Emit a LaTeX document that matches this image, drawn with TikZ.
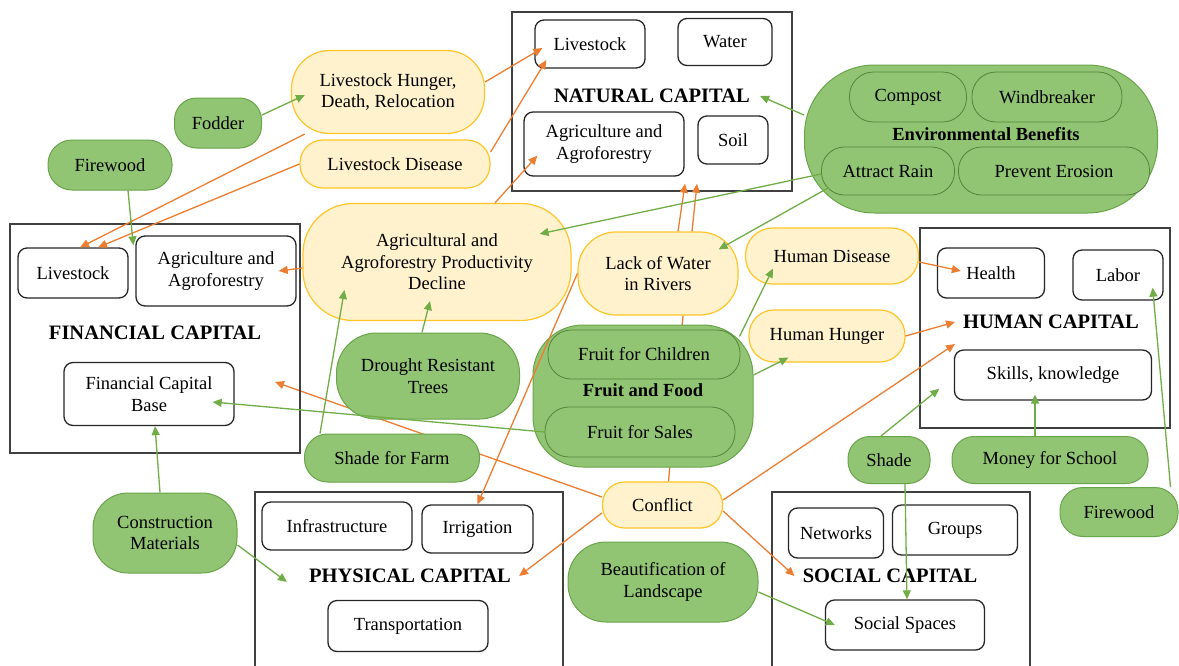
\documentclass[tikz,border=0pt]{standalone}
\usepackage{fontspec}
\setmainfont{Liberation Serif}
\usepackage{tikz}
\usetikzlibrary{arrows.meta}
\usetikzlibrary{backgrounds}

\definecolor{impactfill}{RGB}{255,242,204}
\definecolor{impactline}{RGB}{255,196,40}
\definecolor{benefitfill}{RGB}{145,197,116}
\definecolor{benefitline}{RGB}{104,165,72}
\definecolor{causecol}{RGB}{237,125,49}
\definecolor{gaincol}{RGB}{112,173,71}

\tikzset{
  capital/.style={draw=black!75, line width=1.5pt, inner sep=0pt},
  asset/.style={draw=black!85, line width=1.3pt, rounded corners=9pt, fill=white, inner sep=2pt},
  heading/.style={font=\fontsize{20.5}{24}\selectfont\bfseries, inner sep=4pt},
  impact/.style={draw=impactline, line width=1.2pt, fill=impactfill, inner sep=2pt},
  benefit/.style={draw=benefitline, line width=1pt, fill=benefitfill, inner sep=2pt},
  subbenefit/.style={draw=benefitline!80!black, line width=0.8pt, fill=benefitfill, inner sep=2pt},
  cause/.style={draw=causecol, line width=1.3pt, -{Triangle[length=9pt,width=8pt]}},
  gain/.style={draw=gaincol, line width=1.3pt, -{Triangle[length=9pt,width=8pt]}},
}

\begin{document}
\begin{tikzpicture}[x=1pt, y=-1pt, every node/.append style={font=\fontsize{18.5}{21.5}\selectfont, align=center}]
        \useasboundingbox (0,0) rectangle (1179,665);
        \clip (0,0) rectangle (1179,665); % bottom boxes run off the page

        % natural capital
        \node[capital, minimum width=280pt, minimum height=179pt] (nat) at (652,101.5) {};
        \node[asset, minimum width=110pt, minimum height=48pt] (natLs) at (590,44) {Livestock};
        \node[asset, minimum width=94pt, minimum height=47pt] (natWater) at (725,42) {Water};
        \node[heading] (natT) at (652,96) {NATURAL CAPITAL};
        \node[asset, minimum width=160pt, minimum height=64pt] (natAgri) at (604,144) {Agriculture and\\Agroforestry};
        \node[asset, minimum width=70pt, minimum height=48pt] (natSoil) at (733,140) {Soil};

        % environmental benefits
        \node[benefit, rounded corners=70pt, minimum width=353pt, minimum height=148pt] (env) at (981,139) {};
        \node[subbenefit, rounded corners=24pt, minimum width=117pt, minimum height=50pt] (compost) at (908,97) {Compost};
        \node[subbenefit, rounded corners=24pt, minimum width=150pt, minimum height=50pt] (wind) at (1047,97) {Windbreaker};
        \node[font=\fontsize{18.5}{21.5}\selectfont\bfseries] (envT) at (986,134) {Environmental Benefits};
        \node[subbenefit, rounded corners=23pt, minimum width=133pt, minimum height=48pt] (rain) at (888,171) {Attract Rain};
        \node[subbenefit, rounded corners=23pt, minimum width=191pt, minimum height=48pt] (erosion) at (1054,171) {Prevent Erosion};

        % livestock impacts and left benefits
        \node[impact, rounded corners=38pt, minimum width=193pt, minimum height=83pt] (lhd) at (388,92) {Livestock Hunger,\\Death, Relocation};
        \node[impact, rounded corners=23pt, minimum width=190pt, minimum height=48pt] (ldis) at (395,164) {Livestock Disease};
        \node[benefit, rounded corners=22pt, minimum width=87pt, minimum height=50pt] (fodder) at (218,123) {Fodder};
        \node[benefit, rounded corners=24pt, minimum width=124pt, minimum height=50pt] (fwoodL) at (110,165) {Firewood};

        % financial capital
        \node[capital, minimum width=290pt, minimum height=229pt] (fin) at (155,338.5) {};
        \node[asset, minimum width=110pt, minimum height=50pt] (finLs) at (73,273) {Livestock};
        \node[asset, minimum width=160pt, minimum height=70pt] (finAgri) at (216,271) {Agriculture and\\Agroforestry};
        \node[heading] (finT) at (155,333) {FINANCIAL CAPITAL};
        \node[asset, minimum width=170pt, minimum height=63pt] (finBase) at (149,394) {Financial Capital\\Base};
        \coordinate (finIn) at (275,382);

        % middle impacts
        \node[impact, rounded corners=50pt, minimum width=268pt, minimum height=117pt] (decl) at (437,262) {Agricultural and\\Agroforestry Productivity\\Decline};
        \node[impact, rounded corners=38pt, minimum width=160pt, minimum height=83pt] (lack) at (658,273.5) {Lack of Water\\in Rivers};
        \node[impact, rounded corners=27pt, minimum width=173pt, minimum height=56pt] (hdis) at (832,256) {Human Disease};
        \node[impact, rounded corners=25pt, minimum width=156pt, minimum height=52pt] (hhun) at (827,336) {Human Hunger};

        % human capital
        \node[capital, minimum width=250pt, minimum height=200pt] (hum) at (1045,328) {};
        \node[asset, minimum width=107pt, minimum height=50pt] (health) at (991,273) {Health};
        \node[asset, minimum width=90pt, minimum height=50pt] (labor) at (1118,275) {Labor};
        \node[heading] (humT) at (1051,322) {HUMAN CAPITAL};
        \node[asset, minimum width=197pt, minimum height=50pt] (skills) at (1053,375) {Skills, knowledge};

        % trees, fruit and food
        \node[benefit, rounded corners=40pt, minimum width=183pt, minimum height=86pt] (drought) at (428,376) {Drought Resistant\\Trees};
        \node[benefit, rounded corners=50pt, minimum width=220pt, minimum height=142pt] (fruit) at (643,396) {};
        \node[subbenefit, rounded corners=23pt, minimum width=192pt, minimum height=49pt] (fchild) at (644,354.5) {Fruit for Children};
        \node[font=\fontsize{18.5}{21.5}\selectfont\bfseries] (fruitT) at (643,390) {Fruit and Food};
        \node[subbenefit, rounded corners=24pt, minimum width=190pt, minimum height=50pt] (fsales) at (640,432) {Fruit for Sales};
        \node[benefit, rounded corners=23pt, minimum width=175pt, minimum height=48pt] (shadeFarm) at (392,458) {Shade for Farm};
        \node[impact, rounded corners=22pt, minimum width=120pt, minimum height=46pt] (conflict) at (662.5,505) {Conflict};
        \node[benefit, rounded corners=22pt, minimum width=82pt, minimum height=47pt] (shade) at (889,460) {Shade};
        \node[benefit, rounded corners=22pt, minimum width=196pt, minimum height=47pt] (money) at (1050,460) {Money for School};
        \node[benefit, rounded corners=23pt, minimum width=118pt, minimum height=49pt] (fwoodR) at (1119,512) {Firewood};
        \node[benefit, rounded corners=35pt, minimum width=144pt, minimum height=80pt] (constr) at (165,533) {Construction\\Materials};
        \node[benefit, rounded corners=38pt, minimum width=190pt, minimum height=80pt] (beauty) at (663,582) {Beautification of\\Landscape};

        % physical capital
        \node[capital, minimum width=308pt, minimum height=178pt] (phys) at (409,581) {};
        \node[asset, minimum width=150pt, minimum height=48pt] (infra) at (337,526) {Infrastructure};
        \node[asset, minimum width=111pt, minimum height=48pt] (irrig) at (477.5,529) {Irrigation};
        \node[heading] (physT) at (410,576) {PHYSICAL CAPITAL};
        \node[asset, minimum width=160pt, minimum height=51pt] (transp) at (408,626) {Transportation};

        % social capital
        \node[capital, minimum width=258pt, minimum height=178pt] (soc) at (901,581) {};
        \node[asset, minimum width=95pt, minimum height=50pt] (netw) at (836,533) {Networks};
        \node[asset, minimum width=125pt, minimum height=50pt] (groups) at (955,530) {Groups};
        \node[heading] (socT) at (890,576) {SOCIAL CAPITAL};
        \node[asset, minimum width=159pt, minimum height=50pt] (spaces) at (905,625) {Social Spaces};

        % lines that run behind the shapes
        \begin{scope}[on background layer]
            \draw[causecol, line width=1.3pt] ([xshift=25pt]lack.south) -- ([xshift=6pt]conflict.north);
            \draw[cause] ([yshift=8pt]conflict.west) -- (finIn);
        \end{scope}

        % impacts (orange)
        \draw[cause] (lhd) -- ([xshift=7pt]finLs.north);
        \draw[cause] (ldis.west) -- ([xshift=25pt]finLs.north);
        \draw[cause] ([yshift=10pt]lhd.east) -- ([xshift=8pt,yshift=-4pt]natLs.west);
        \draw[cause] ([yshift=12pt]ldis.east) -- ([xshift=12pt,yshift=-16pt]natLs.west);
        \draw[cause] ([xshift=58pt]decl.north) -- ([xshift=14pt,yshift=21pt]natAgri.south west);
        \draw[cause] ([yshift=-6pt]decl.west) -- ([xshift=-18pt]finAgri.east);
        \draw[cause] ([xshift=20pt]lack.north) -- ([xshift=33pt,yshift=8pt]nat.south);
        \draw[cause] ([xshift=34pt]lack.north) -- ([xshift=45pt,yshift=8pt]nat.south);
        \draw[cause] (lack.west) -- (irrig.north);
        \draw[cause] ([yshift=-6pt]hdis.east) -- ([xshift=24pt,yshift=2pt]health.west);
        \draw[cause] (hhun.east) -- ([xshift=-4pt]humT.west);
        \draw[cause] ([yshift=5pt]conflict.east) -- ([xshift=-4pt,yshift=-22pt]humT.west);
        \draw[cause] ([yshift=-8pt]conflict.west) -- ([xshift=4pt]physT.east);
        \draw[cause] ([yshift=-6pt]conflict.east) -- ([xshift=-4pt]socT.west);

        % benefits (green)
        \draw[gain] ([yshift=8pt]fodder.east) -- ([xshift=14pt,yshift=-3pt]lhd.west);
        \draw[gain] ([xshift=18pt]fwoodL.south) -- ([xshift=-2pt,yshift=-10pt]finAgri.north west);
        \draw[gain] ([yshift=24pt]env.west) -- ([xshift=6pt]natT.east);
        \draw[gain] ([yshift=-3pt]rain.west) -- ([xshift=-32pt,yshift=-31pt]decl.north east);
        \draw[gain] ([xshift=8pt,yshift=8pt]rain.south west) -- ([xshift=-20pt,yshift=-18pt]lack.north east);
        \draw[gain] ([xshift=-6pt]drought.north) -- ([xshift=-7pt,yshift=20pt]decl.south);
        \draw[gain] ([xshift=16pt]shadeFarm.north west) -- ([xshift=42pt,yshift=-28pt]decl.west);
        \draw[gain] (fsales.west) -- ([xshift=-22pt,yshift=-8pt]finBase.east);
        \draw[gain] ([xshift=-5pt]constr.north) -- ([xshift=6pt]finBase.south);
        \draw[gain] ([yshift=-12pt]constr.east) -- ([xshift=-18pt,yshift=-6pt]physT.west);
        \draw[gain] ([xshift=-14pt,yshift=-12pt]fruit.north east) -- ([xshift=28pt,yshift=16pt]hdis.south west);
        \draw[gain] ([yshift=21pt]fruit.east) -- ([xshift=40pt,yshift=5pt]hhun.south west);
        \draw[gain] ([xshift=-8pt]shade.north) -- ([xshift=20pt,yshift=40pt]hum.south west);
        \draw[gain] ([xshift=16pt]shade.south) -- ([xshift=2pt]spaces.north);
        \draw[gain] ([xshift=-15pt]money.north) -- ([xshift=-18pt,yshift=6pt]skills.south);
        \draw[gain] ([xshift=-8pt]fwoodR.north east) -- ([xshift=-11pt,yshift=13pt]labor.south east);
        \draw[gain] ([yshift=-10pt]beauty.east) -- ([xshift=10pt]spaces.west);
\end{tikzpicture}
\end{document}
